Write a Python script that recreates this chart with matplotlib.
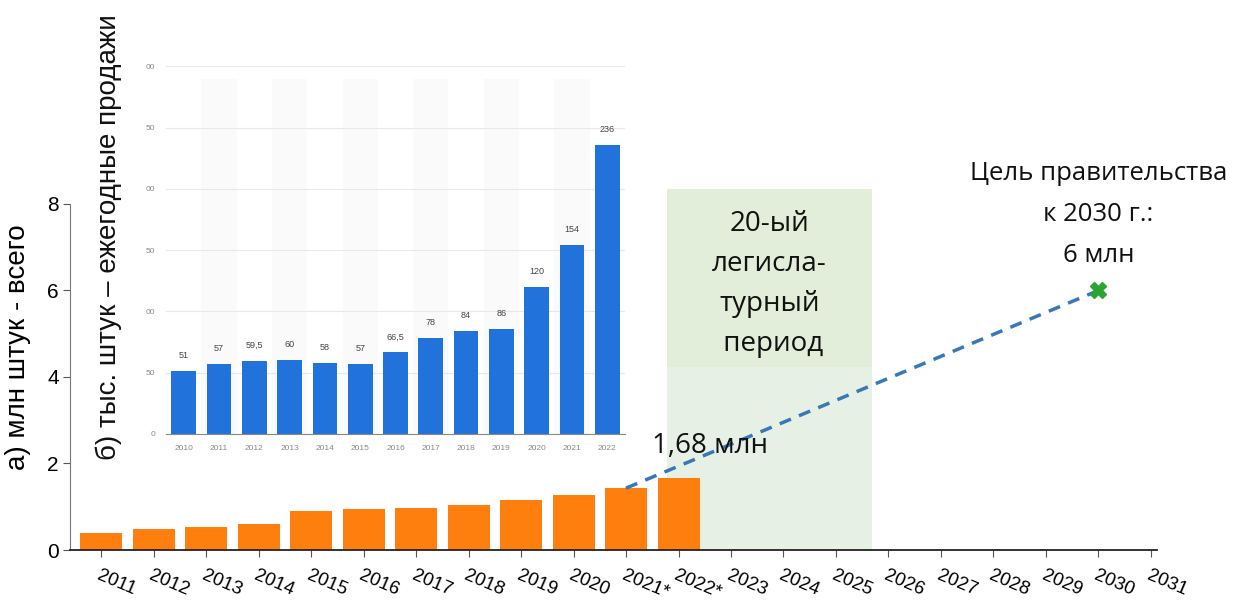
import numpy as np
import matplotlib.pyplot as plt
from matplotlib.patches import Rectangle

# main chart: total stock, million units
years = [2011, 2012, 2013, 2014, 2015, 2016, 2017, 2018, 2019, 2020, 2021, 2022]
stock = [0.39, 0.48, 0.54, 0.60, 0.89, 0.95, 0.96, 1.05, 1.15, 1.28, 1.43, 1.67]
axis_years = list(range(2011, 2032))
axis_labels = [str(y) for y in axis_years]
axis_labels[axis_labels.index('2021')] = '2021*'
axis_labels[axis_labels.index('2022')] = '2022*'

# trend to government target
trend_x = [2021, 2030]
trend_y = [1.43, 6.0]
target_year, target_value = 2030, 6.0
period_start, period_end = 2021.78, 2025.69

# inset: annual sales, thousand units
sales_years = ['2010', '2011', '2012', '2013', '2014', '2015', '2016',
               '2017', '2018', '2019', '2020', '2021', '2022']
sales = [51, 57, 59.5, 60, 58, 57, 66.5, 78, 84, 86, 120, 154, 236]
sales_labels = ['51', '57', '59,5', '60', '58', '57', '66,5',
                '78', '84', '86', '120', '154', '236']
inset_ticks = [0, 50, 100, 150, 200, 250, 300]
inset_ticklabels = ['0', '50', '00', '50', '00', '50', '00']

plt.rcParams['font.family'] = ['Liberation Sans', 'DejaVu Sans']
note_font = ['Open Sans', 'DejaVu Sans']

fig = plt.figure(figsize=(12.44, 6.04), dpi=100)
ax = fig.add_axes([0.0563, 0.0894, 0.874, 0.573])

# legislative period box: greener upper part, paler lower part
ax.add_patch(Rectangle((period_start, 4.23), period_end - period_start, 8.35 - 4.23,
                       facecolor='#e2eed9', edgecolor='none', clip_on=False, zorder=0))
ax.add_patch(Rectangle((period_start, 0), period_end - period_start, 4.23,
                       facecolor='#e7f0e4', edgecolor='none', clip_on=False, zorder=0))
ax.bar(years, stock, width=0.8, color='#ff7f0e', zorder=2)
ax.plot(trend_x, trend_y, color='#3878b8', lw=2.5, ls=(0, (3.5, 2.5)), zorder=3)
ax.plot([target_year], [target_value], marker='X', ms=12, color='#2aa532',
        mec='#2aa532', zorder=4, clip_on=False)

ax.set_xlim(2010.41, 2031.12)
ax.set_ylim(0, 8)
ax.set_yticks([0, 2, 4, 6, 8])
ax.tick_params(axis='y', labelsize=15, length=5, color='#555555', pad=3)
ax.set_xticks(axis_years)
ax.set_xticklabels(axis_labels, rotation=-23, ha='left', rotation_mode='anchor',
                   fontsize=13.5)
ax.tick_params(axis='x', length=5, color='#555555', pad=7)
for s in ['top', 'right']:
    ax.spines[s].set_visible(False)
ax.spines['left'].set_color('#777777')
ax.spines['bottom'].set_color('#222222')
ax.spines['bottom'].set_linewidth(1.3)
ax.set_ylabel('а) млн штук - всего', fontsize=20)
ax.yaxis.set_label_coords(-0.036, 0.587)

ax.text((period_start + period_end) / 2, 7.85, '20-ый\nлегисла-\nтурный\n период',
        ha='center', va='top', fontsize=20, linespacing=1.57,
        family=note_font, color='#111111')
ax.text(target_year, 9.0, 'Цель правительства\nк 2030 г.:\n6 млн',
        ha='center', va='top', fontsize=18.5, linespacing=1.85,
        family=note_font, color='#111111', clip_on=False)
ax.text(2021.5, 2.4, '1,68 млн', ha='left', va='center', fontsize=20,
        family=note_font, color='#111111')

# inset chart
ins = fig.add_axes([166 / 1244, (604 - 434) / 604, 459 / 1244, 380 / 604])
ins.set_facecolor('white')
xpos = np.arange(len(sales))
for i in xpos[1::2]:
    ins.fill_between([i - 0.5, i + 0.5], 0, 290, color='#fafafa', lw=0, zorder=0)
ins.bar(xpos, sales, width=0.7, color='#2272dc', zorder=2)
for x, v, lab in zip(xpos, sales, sales_labels):
    ins.text(x, v + 9, lab, ha='center', va='bottom', fontsize=6.5, color='#444444')
ins.set_xlim(-0.5, 12.5)
ins.set_ylim(0, 310)
ins.set_yticks(inset_ticks)
ins.set_yticklabels(inset_ticklabels)
ins.set_xticks(xpos)
ins.set_xticklabels(sales_years)
ins.tick_params(axis='both', labelsize=6, colors='#888888', length=0, pad=8)
ins.grid(axis='y', color='#e8e8e8', lw=0.8, zorder=1)
for s in ['top', 'right', 'left']:
    ins.spines[s].set_visible(False)
ins.spines['bottom'].set_color('#888888')
ins.set_ylabel('б) тыс. штук – ежегодные продажи', fontsize=20, color='#111111')
ins.yaxis.set_label_coords(-0.096, 0.518)

fig.savefig('out.png', dpi=100)
